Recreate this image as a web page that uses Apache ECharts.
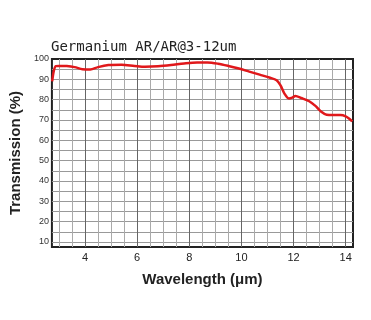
<!DOCTYPE html>
<html>
<head>
<meta charset="utf-8">
<script src="https://cdn.jsdelivr.net/npm/echarts@6/dist/echarts.min.js"></script>
<style>html,body{margin:0;padding:0;background:#fff}#c{width:371px;height:320px}</style>
</head>
<body>
<div id="c"></div>
<script>
var titleText = 'Germanium AR/AR@3-12um';
var xName = 'Wavelength (\u03bcm)';
var yName = 'Transmission (%)';
var wavelength = [2.74, 2.80, 2.88, 3.0, 3.3, 3.6, 3.9, 4.2, 4.5, 4.9, 5.4, 5.9, 6.3, 6.8, 7.3, 7.8, 8.3, 8.7, 9.1, 9.5, 9.9, 10.3, 10.7, 11.1, 11.35, 11.5, 11.65, 11.82, 11.95, 12.07, 12.3, 12.6, 12.85, 13.05, 13.27, 13.5, 13.8, 14.0, 14.15, 14.25];
var transmission = [89, 94, 96.5, 96.6, 96.5, 96.0, 95.0, 94.8, 96.0, 97.0, 97.2, 96.6, 96.2, 96.4, 97.0, 97.8, 98.3, 98.3, 97.7, 96.6, 95.3, 93.8, 92.3, 90.8, 89.5, 87, 83, 80.6, 81, 81.8, 80.8, 79.2, 76.8, 74.2, 72.6, 72.4, 72.4, 71.8, 70.5, 69.3];
var xTickLabels = [4, 6, 8, 10, 12, 14];
var xMinorGrid = [3, 3.5, 4, 4.5, 5, 5.5, 6, 6.5, 7, 7.5, 8, 8.5, 9, 9.5, 10, 10.5, 11, 11.5, 12, 12.5, 13, 13.5, 14];
var xMajorGrid = [4, 6, 8, 10, 12, 14];
var yTickLabels = [10, 20, 30, 40, 50, 60, 70, 80, 90, 100];
var yGrid = [10, 15, 20, 25, 30, 35, 40, 45, 50, 55, 60, 65, 70, 75, 80, 85, 90, 95];

var data = wavelength.map(function (w, i) { return [w, transmission[i]]; });
var chart = echarts.init(document.getElementById('c'), null, {renderer: 'canvas'});
chart.setOption({
  animation: false,
  backgroundColor: '#fff',
  title: {
    text: titleText, left: 46, top: 35,
    textStyle: {fontFamily: 'DejaVu Sans Mono', fontSize: 14, fontWeight: 'normal', color: '#222'}
  },
  grid: {left: 49, right: 18, top: 59, bottom: 73, show: true, borderColor: '#222', borderWidth: 2, backgroundColor: '#fff'},
  xAxis: [{
    type: 'value', min: 2.73, max: 14.28,
    name: xName, nameLocation: 'middle', nameGap: 25,
    nameTextStyle: {fontFamily: 'Liberation Sans', fontSize: 15, fontWeight: 'bold', color: '#222'},
    axisLine: {show: false}, axisTick: {show: false, customValues: xMinorGrid},
    axisLabel: {customValues: xTickLabels, fontFamily: 'Liberation Sans', fontSize: 11, color: '#222', margin: 5},
    splitLine: {show: true, lineStyle: {color: '#aaa', width: 1}}
  }, {
    type: 'value', min: 2.73, max: 14.28, position: 'bottom',
    axisLine: {show: false}, axisTick: {show: false, customValues: xMajorGrid},
    axisLabel: {show: false},
    splitLine: {show: true, lineStyle: {color: '#666', width: 1}}
  }],
  yAxis: {
    type: 'value', min: 7.5, max: 100,
    name: yName, nameLocation: 'middle', nameGap: 27,
    nameTextStyle: {fontFamily: 'Liberation Sans', fontSize: 15, fontWeight: 'bold', color: '#222'},
    axisLine: {show: false}, axisTick: {show: false, customValues: yGrid},
    axisLabel: {customValues: yTickLabels, fontFamily: 'Liberation Sans', fontSize: 9, color: '#333', margin: 3},
    splitLine: {show: true, lineStyle: {color: '#999', width: 1}}
  },
  series: [{
    type: 'line', data: data, smooth: 0.3, symbol: 'none',
    lineStyle: {color: '#e0181b', width: 2.5}, z: 5
  }]
});
</script>
</body>
</html>
